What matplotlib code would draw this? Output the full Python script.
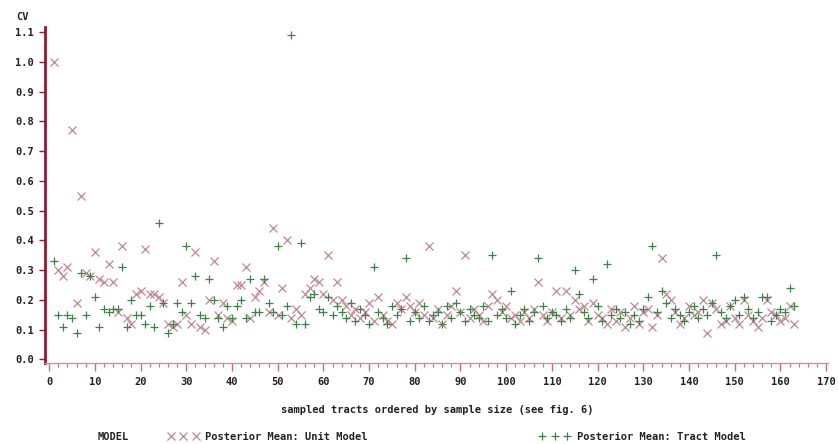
import numpy as np
import matplotlib
matplotlib.use("Agg")
import matplotlib.pyplot as plt

# posterior mean CV per sampled tract (tracts ordered by sample size)
unit_model = [
    1.00, 0.30, 0.28, 0.31, 0.77, 0.19, 0.55, 0.29, 0.28, 0.36,
    0.27, 0.26, 0.32, 0.26, 0.16, 0.38, 0.14, 0.12, 0.22, 0.23,
    0.37, 0.22, 0.22, 0.21, 0.19, 0.12, 0.11, 0.12, 0.26, 0.15,
    0.12, 0.36, 0.11, 0.10, 0.20, 0.33, 0.15, 0.19, 0.14, 0.13,
    0.25, 0.25, 0.31, 0.14, 0.21, 0.23, 0.26, 0.16, 0.44, 0.15,
    0.24, 0.40, 0.14, 0.17, 0.15, 0.22, 0.24, 0.27, 0.26, 0.22,
    0.35, 0.20, 0.26, 0.20, 0.18, 0.15, 0.17, 0.14, 0.16, 0.19,
    0.13, 0.21, 0.15, 0.13, 0.12, 0.19, 0.17, 0.21, 0.18, 0.16,
    0.19, 0.15, 0.38, 0.14, 0.17, 0.12, 0.15, 0.18, 0.23, 0.16,
    0.35, 0.14, 0.17, 0.15, 0.13, 0.18, 0.22, 0.20, 0.16, 0.18,
    0.14, 0.15, 0.13, 0.16, 0.14, 0.17, 0.26, 0.15, 0.13, 0.16,
    0.23, 0.14, 0.23, 0.15, 0.20, 0.17, 0.18, 0.13, 0.19, 0.15,
    0.14, 0.12, 0.17, 0.13, 0.16, 0.11, 0.14, 0.18, 0.12, 0.16,
    0.17, 0.11, 0.15, 0.34, 0.22, 0.20, 0.16, 0.12, 0.14, 0.18,
    0.15, 0.16, 0.20, 0.09, 0.19, 0.17, 0.12, 0.13, 0.18, 0.14,
    0.12, 0.20, 0.15, 0.13, 0.11, 0.14, 0.20, 0.16, 0.15, 0.13,
    0.14, 0.18, 0.12,
]
tract_model = [
    0.33, 0.15, 0.11, 0.15, 0.14, 0.09, 0.29, 0.15, 0.28, 0.21,
    0.11, 0.17, 0.16, 0.17, 0.17, 0.31, 0.11, 0.20, 0.15, 0.15,
    0.12, 0.18, 0.11, 0.46, 0.19, 0.09, 0.12, 0.19, 0.16, 0.38,
    0.19, 0.28, 0.15, 0.14, 0.27, 0.20, 0.14, 0.11, 0.18, 0.14,
    0.18, 0.20, 0.14, 0.27, 0.16, 0.16, 0.27, 0.19, 0.16, 0.38,
    0.15, 0.18, 1.09, 0.12, 0.39, 0.12, 0.21, 0.22, 0.17, 0.16,
    0.21, 0.15, 0.18, 0.16, 0.14, 0.19, 0.13, 0.17, 0.15, 0.12,
    0.31, 0.16, 0.14, 0.12, 0.18, 0.15, 0.17, 0.34, 0.13, 0.16,
    0.14, 0.18, 0.13, 0.15, 0.16, 0.12, 0.18, 0.14, 0.19, 0.16,
    0.13, 0.17, 0.15, 0.14, 0.18, 0.13, 0.35, 0.15, 0.17, 0.14,
    0.23, 0.12, 0.15, 0.17, 0.13, 0.16, 0.34, 0.18, 0.14, 0.16,
    0.15, 0.13, 0.17, 0.14, 0.30, 0.22, 0.16, 0.14, 0.27, 0.18,
    0.13, 0.32, 0.15, 0.17, 0.14, 0.16, 0.12, 0.15, 0.13, 0.17,
    0.21, 0.38, 0.16, 0.23, 0.19, 0.14, 0.17, 0.15, 0.13, 0.16,
    0.18, 0.14, 0.17, 0.15, 0.19, 0.35, 0.16, 0.14, 0.18, 0.20,
    0.15, 0.21, 0.17, 0.14, 0.16, 0.21, 0.21, 0.13, 0.15, 0.17,
    0.16, 0.24, 0.18,
]
tract = np.arange(1, len(unit_model) + 1)

x_ticks = list(range(0, 171, 10))
y_ticks = [round(0.1 * i, 1) for i in range(12)]

FONT = "DejaVu Sans Mono"
unit_color = "#c38591"
tract_color = "#3a8446"

fig = plt.figure(figsize=(8.38, 4.44), dpi=100)
ax = fig.add_axes([45 / 838, 1 - 363 / 444, 783 / 838, 336 / 444])

ax.plot(tract, unit_model, linestyle="none", marker="x", markersize=5.5,
        markeredgewidth=0.9, color=unit_color,
        label="Posterior Mean: Unit Model")
ax.plot(tract, tract_model, linestyle="none", marker="+", markersize=6,
        markeredgewidth=0.9, color=tract_color,
        label="Posterior Mean: Tract Model")

ax.set_xlim(-0.9, 170.4)
ax.set_ylim(-0.012, 1.117)
ax.set_xticks(x_ticks)
ax.set_xticks(range(0, 171, 2), minor=True)
ax.set_yticks(y_ticks)
ax.set_yticklabels(["%.1f" % v for v in y_ticks])

for side in ["top", "right"]:
    ax.spines[side].set_visible(False)
ax.spines["left"].set_color("#8e1b2e")
ax.spines["left"].set_linewidth(2)
ax.spines["bottom"].set_color("#e08a96")
ax.spines["bottom"].set_linewidth(1)

ax.tick_params(axis="y", length=4, width=1, color="#8e1b2e", pad=4,
               labelsize=7.5, labelcolor="#222222")
ax.tick_params(axis="x", which="major", length=6, width=1, color="#d06a7a",
               pad=4, labelsize=7.5, labelcolor="#222222")
ax.tick_params(axis="x", which="minor", length=3, width=0.8, color="#d06a7a")
for lab in ax.get_xticklabels() + ax.get_yticklabels():
    lab.set_family(FONT)
    lab.set_fontweight("bold")

fig.text(22 / 838, 1 - 17 / 444, "CV", fontsize=7.5, family=FONT,
         fontweight="bold", color="#222222", ha="center", va="center")
fig.text(437 / 838, 1 - 410 / 444,
         "sampled tracts ordered by sample size (see fig. 6)",
         fontsize=7.5, family=FONT, fontweight="bold", color="#222222",
         ha="center", va="center")
fig.text(98 / 838, 1 - 437 / 444, "MODEL", fontsize=7.5, family=FONT,
         fontweight="bold", color="#222222", ha="left", va="center")

leg = fig.legend(loc="center left", bbox_to_anchor=(158 / 838, 1 - 437 / 444),
                 ncol=2, numpoints=3, frameon=False, handlelength=3,
                 handletextpad=0.6, columnspacing=16.5,
                 prop={"family": FONT, "weight": "bold", "size": 7.5})
for t in leg.get_texts():
    t.set_color("#222222")

fig.savefig("out.png", dpi=100, facecolor="white")
